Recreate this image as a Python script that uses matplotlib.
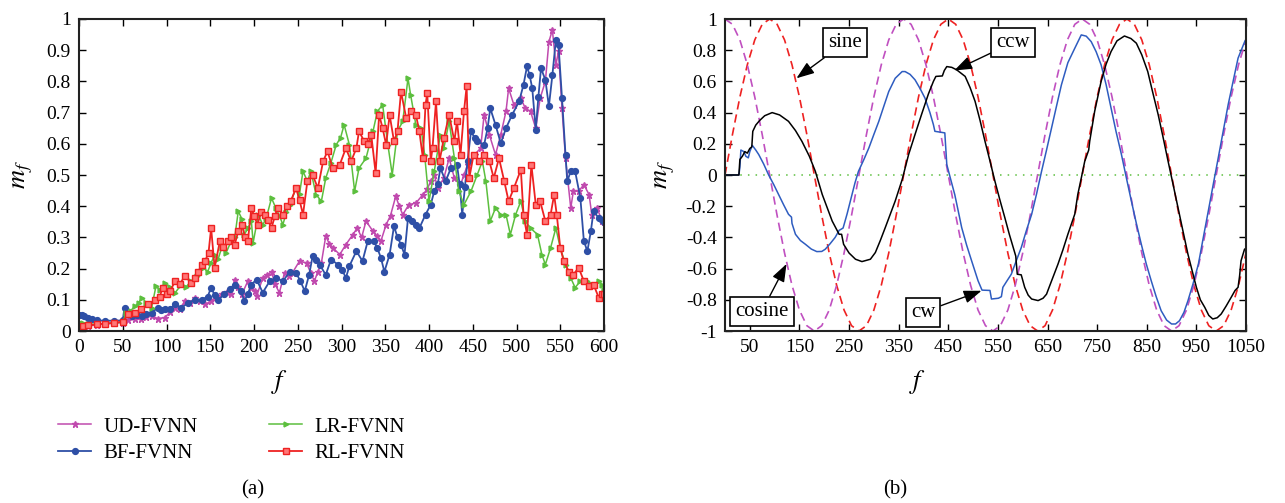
import numpy as np
import matplotlib
matplotlib.use("Agg")
import matplotlib.pyplot as plt
from matplotlib.ticker import FuncFormatter

plt.rcParams['font.family'] = ['Liberation Serif', 'DejaVu Serif']
plt.rcParams['mathtext.fontset'] = 'stix'

# ---- panel (a): m_f per frame for four networks ----
ud_f = [0, 5, 10, 20, 30, 40, 50, 56, 64, 71, 77, 83, 90, 98, 104, 110, 115, 121, 127, 132, 138, 144, 151, 157,
        163, 169, 174, 178, 182, 186, 193, 197, 201, 203, 210, 215, 220, 224, 229, 235, 240, 244, 252, 260, 265,
        269, 273, 277, 282, 286, 290, 298, 305, 313, 318, 323, 328, 336, 340, 345, 351, 356, 362, 366, 370, 377,
        385, 393, 398, 402, 406, 410, 417, 423, 429, 436, 440, 444, 452, 459, 463, 469, 476, 482, 488, 491, 497,
        505, 510, 516, 522, 527, 533, 537, 541, 545, 548, 552, 556, 562, 565, 571, 577, 583, 586, 592, 598, 600]
ud_m = [0.000, 0.010, 0.015, 0.020, 0.022, 0.025, 0.027, 0.035, 0.037, 0.038, 0.045, 0.048, 0.040, 0.043, 0.060,
        0.075, 0.070, 0.096, 0.090, 0.107, 0.095, 0.085, 0.096, 0.110, 0.117, 0.125, 0.117, 0.165, 0.140, 0.117,
        0.160, 0.139, 0.128, 0.112, 0.170, 0.180, 0.190, 0.150, 0.123, 0.187, 0.175, 0.187, 0.224, 0.218, 0.185,
        0.160, 0.190, 0.218, 0.304, 0.280, 0.267, 0.245, 0.277, 0.309, 0.330, 0.300, 0.352, 0.320, 0.305, 0.288,
        0.341, 0.370, 0.432, 0.400, 0.373, 0.405, 0.410, 0.437, 0.455, 0.480, 0.500, 0.458, 0.490, 0.554, 0.490,
        0.469, 0.500, 0.533, 0.565, 0.586, 0.693, 0.629, 0.565, 0.629, 0.704, 0.778, 0.725, 0.746, 0.714, 0.704,
        0.650, 0.746, 0.800, 0.927, 0.965, 0.853, 0.896, 0.714, 0.554, 0.394, 0.448, 0.448, 0.469, 0.437, 0.373,
        0.394, 0.352, 0.350]

bf_f = [0, 3, 6, 10, 15, 20, 30, 40, 50, 52, 56, 60, 66, 72, 77, 83, 90, 94, 98, 104, 110, 117, 125, 132, 140,
        147, 151, 155, 159, 166, 172, 178, 185, 189, 193, 197, 203, 210, 218, 225, 233, 241, 248, 253, 258, 263,
        267, 271, 275, 282, 288, 296, 301, 305, 309, 317, 324, 330, 337, 341, 345, 349, 355, 360, 364, 368, 372,
        376, 381, 385, 389, 396, 402, 406, 410, 413, 419, 425, 432, 435, 438, 441, 444, 448, 452, 455, 463, 467,
        470, 476, 482, 488, 495, 503, 508, 512, 515, 518, 522, 525, 528, 533, 537, 541, 545, 548, 552, 556, 558,
        562, 567, 573, 577, 581, 585, 588, 594, 598, 600]
bf_m = [0.050, 0.052, 0.048, 0.042, 0.037, 0.034, 0.033, 0.033, 0.034, 0.075, 0.055, 0.048, 0.052, 0.048, 0.055,
        0.059, 0.075, 0.066, 0.069, 0.072, 0.085, 0.075, 0.090, 0.100, 0.100, 0.110, 0.139, 0.115, 0.100, 0.117,
        0.135, 0.149, 0.128, 0.096, 0.120, 0.149, 0.165, 0.123, 0.160, 0.170, 0.160, 0.190, 0.187, 0.160, 0.128,
        0.180, 0.240, 0.228, 0.213, 0.180, 0.229, 0.213, 0.195, 0.170, 0.208, 0.256, 0.224, 0.288, 0.288, 0.265,
        0.235, 0.190, 0.245, 0.336, 0.300, 0.277, 0.245, 0.362, 0.352, 0.340, 0.330, 0.373, 0.405, 0.448, 0.470,
        0.522, 0.480, 0.522, 0.533, 0.470, 0.373, 0.460, 0.544, 0.640, 0.620, 0.608, 0.597, 0.650, 0.714, 0.661,
        0.602, 0.650, 0.693, 0.736, 0.789, 0.848, 0.820, 0.778, 0.645, 0.750, 0.842, 0.805, 0.720, 0.820, 0.933,
        0.917, 0.746, 0.565, 0.480, 0.512, 0.512, 0.426, 0.288, 0.256, 0.320, 0.384, 0.362, 0.357, 0.350]

lr_f = [0, 5, 10, 20, 30, 40, 50, 54, 59, 64, 68, 72, 77, 83, 88, 93, 98, 104, 110, 117, 122, 128, 135, 142, 147,
        151, 155, 159, 163, 168, 174, 178, 182, 186, 189, 193, 197, 199, 205, 210, 214, 220, 225, 229, 233, 237,
        241, 248, 252, 256, 261, 265, 271, 277, 282, 288, 294, 299, 303, 309, 315, 320, 328, 336, 341, 347, 353,
        358, 364, 370, 376, 379, 385, 391, 395, 400, 406, 413, 417, 423, 429, 434, 440, 448, 455, 461, 465, 470,
        476, 482, 488, 493, 499, 505, 510, 516, 524, 529, 533, 539, 545, 550, 556, 562, 567, 573, 581, 588, 594,
        598, 600]
lr_m = [0.030, 0.025, 0.022, 0.022, 0.024, 0.026, 0.028, 0.059, 0.065, 0.080, 0.090, 0.107, 0.090, 0.075, 0.144,
        0.130, 0.155, 0.140, 0.123, 0.149, 0.140, 0.160, 0.175, 0.203, 0.190, 0.218, 0.245, 0.230, 0.267, 0.250,
        0.288, 0.300, 0.384, 0.360, 0.309, 0.330, 0.352, 0.283, 0.373, 0.340, 0.362, 0.426, 0.394, 0.370, 0.341,
        0.380, 0.405, 0.458, 0.440, 0.512, 0.480, 0.512, 0.437, 0.416, 0.490, 0.540, 0.597, 0.620, 0.661, 0.597,
        0.448, 0.522, 0.554, 0.640, 0.704, 0.725, 0.597, 0.501, 0.640, 0.672, 0.810, 0.757, 0.661, 0.650, 0.565,
        0.416, 0.512, 0.629, 0.586, 0.672, 0.554, 0.448, 0.405, 0.448, 0.500, 0.544, 0.480, 0.352, 0.394, 0.373,
        0.373, 0.309, 0.373, 0.416, 0.352, 0.330, 0.309, 0.245, 0.213, 0.267, 0.330, 0.267, 0.213, 0.170, 0.139,
        0.160, 0.160, 0.149, 0.160, 0.149, 0.130]

rl_f = [0, 5, 10, 20, 30, 40, 50, 56, 64, 71, 79, 87, 92, 96, 100, 104, 110, 115, 121, 128, 132, 136, 140, 144,
        148, 151, 155, 161, 165, 170, 174, 178, 182, 186, 190, 193, 197, 200, 204, 208, 212, 216, 220, 224, 227,
        233, 238, 242, 248, 252, 256, 261, 267, 273, 279, 284, 290, 298, 305, 311, 317, 320, 326, 330, 334, 339,
        343, 347, 351, 355, 360, 364, 368, 374, 379, 385, 389, 393, 396, 398, 402, 404, 408, 412, 417, 423, 429,
        432, 436, 440, 443, 446, 451, 457, 463, 469, 474, 480, 486, 491, 497, 505, 508, 512, 517, 522, 527, 533,
        539, 543, 546, 550, 554, 560, 565, 571, 577, 583, 588, 594, 598, 600]
rl_m = [0.012, 0.016, 0.018, 0.021, 0.024, 0.026, 0.030, 0.053, 0.059, 0.069, 0.085, 0.100, 0.110, 0.139, 0.120,
        0.128, 0.160, 0.150, 0.176, 0.155, 0.170, 0.190, 0.210, 0.224, 0.250, 0.330, 0.203, 0.288, 0.270, 0.288,
        0.300, 0.277, 0.320, 0.341, 0.300, 0.288, 0.394, 0.370, 0.341, 0.380, 0.373, 0.355, 0.330, 0.370, 0.394,
        0.373, 0.400, 0.416, 0.458, 0.420, 0.373, 0.480, 0.500, 0.458, 0.544, 0.576, 0.522, 0.533, 0.586, 0.544,
        0.586, 0.640, 0.608, 0.600, 0.629, 0.506, 0.693, 0.650, 0.597, 0.693, 0.608, 0.640, 0.767, 0.682, 0.704,
        0.693, 0.640, 0.554, 0.725, 0.762, 0.544, 0.586, 0.736, 0.544, 0.618, 0.693, 0.608, 0.672, 0.565, 0.704,
        0.784, 0.490, 0.565, 0.544, 0.565, 0.544, 0.490, 0.554, 0.480, 0.416, 0.458, 0.517, 0.373, 0.309, 0.533,
        0.405, 0.416, 0.352, 0.373, 0.437, 0.373, 0.267, 0.224, 0.190, 0.181, 0.203, 0.160, 0.144, 0.149, 0.107,
        0.117, 0.120]

# ---- panel (b): reference sine / cosine and the two rotations ----
ref_f = list(range(0, 1051, 15))
sine = [0, .259, .5, .707, .866, .966, 1, .966, .866, .707, .5, .259, 0, -.259, -.5, -.707, -.866, -.966, -1,
        -.966, -.866, -.707, -.5, -.259,
        0, .259, .5, .707, .866, .966, 1, .966, .866, .707, .5, .259, 0, -.259, -.5, -.707, -.866, -.966, -1,
        -.966, -.866, -.707, -.5, -.259,
        0, .259, .5, .707, .866, .966, 1, .966, .866, .707, .5, .259, 0, -.259, -.5, -.707, -.866, -.966, -1,
        -.966, -.866, -.707, -.5]
cosine = [1, .966, .866, .707, .5, .259, 0, -.259, -.5, -.707, -.866, -.966, -1, -.966, -.866, -.707, -.5, -.259,
          0, .259, .5, .707, .866, .966,
          1, .966, .866, .707, .5, .259, 0, -.259, -.5, -.707, -.866, -.966, -1, -.966, -.866, -.707, -.5, -.259,
          0, .259, .5, .707, .866, .966,
          1, .966, .866, .707, .5, .259, 0, -.259, -.5, -.707, -.866, -.966, -1, -.966, -.866, -.707, -.5, -.259,
          0, .259, .5, .707, .866]

ccw_f = [0, 28, 30, 35, 40, 45, 50, 54, 56, 62, 70, 80, 95, 110, 128, 142, 155, 170, 182, 196, 216, 230, 235, 239,
         250, 263, 276, 293, 303, 313, 323, 343, 357, 370, 383, 396, 410, 420, 425, 438, 442, 447, 457, 467, 484,
         494, 504, 514, 524, 534, 544, 554, 564, 573, 581, 586, 589, 597, 604, 611, 618, 631, 641, 648, 652, 658,
         671, 681, 691, 705, 711, 718, 725, 733, 735, 745, 758, 768, 778, 790, 805, 818, 829, 840, 852, 862, 873,
         883, 893, 903, 913, 923, 933, 950, 958, 967, 975, 983, 992, 1000, 1010, 1020, 1028, 1034, 1037, 1040,
         1047, 1050]
ccw_m = [0, 0, 0.10, 0.12, 0.15, 0.14, 0.17, 0.18, 0.28, 0.32, 0.35, 0.38, 0.40, 0.385, 0.344, 0.285, 0.216, 0.12,
         0.024, -0.125, -0.295, -0.38, -0.38, -0.444, -0.50, -0.54, -0.555, -0.54, -0.497, -0.42, -0.337, -0.167,
         -0.03, 0.131, 0.26, 0.387, 0.52, 0.60, 0.632, 0.635, 0.67, 0.695, 0.69, 0.674, 0.632, 0.56, 0.472, 0.35,
         0.216, 0.09, -0.04, -0.16, -0.274, -0.38, -0.466, -0.52, -0.636, -0.64, -0.72, -0.77, -0.795, -0.805,
         -0.79, -0.764, -0.73, -0.68, -0.572, -0.48, -0.38, -0.25, -0.125, -0.02, 0.088, 0.16, 0.216, 0.408, 0.60,
         0.71, 0.791, 0.86, 0.891, 0.875, 0.845, 0.77, 0.663, 0.53, 0.387, 0.24, 0.088, -0.06, -0.21, -0.36,
         -0.508, -0.72, -0.80, -0.849, -0.90, -0.923, -0.915, -0.891, -0.84, -0.785, -0.74, -0.72, -0.65, -0.55,
         -0.476, -0.47]

cw_f = [0, 28, 30, 32, 38, 42, 47, 50, 55, 62, 68, 78, 88, 98, 108, 118, 128, 134, 135, 142, 152, 162, 174, 185,
        195, 202, 212, 222, 230, 238, 246, 256, 262, 269, 280, 290, 300, 310, 320, 330, 343, 357, 363, 373, 383,
        393, 403, 413, 420, 423, 443, 447, 455, 463, 470, 477, 487, 497, 510, 518, 534, 537, 551, 557, 560, 568,
        577, 587, 597, 607, 618, 628, 638, 648, 658, 668, 678, 691, 705, 718, 728, 738, 748, 758, 768, 778, 788,
        799, 809, 819, 829, 839, 849, 859, 869, 879, 890, 900, 908, 916, 925, 933, 943, 954, 964, 974, 984, 994,
        1004, 1014, 1024, 1034, 1048, 1050]
cw_m = [0, 0, 0.05, 0.16, 0.15, 0.12, 0.11, 0.15, 0.19, 0.16, 0.131, 0.07, 0.0, -0.06, -0.125, -0.19, -0.252,
        -0.27, -0.31, -0.38, -0.42, -0.444, -0.475, -0.491, -0.49, -0.476, -0.44, -0.40, -0.355, -0.34, -0.25,
        -0.125, -0.05, 0.024, 0.10, 0.174, 0.26, 0.344, 0.44, 0.535, 0.62, 0.663, 0.663, 0.645, 0.61, 0.555, 0.493,
        0.40, 0.323, 0.28, 0.27, 0.067, -0.03, -0.125, -0.23, -0.337, -0.45, -0.55, -0.678, -0.738, -0.74, -0.795,
        -0.79, -0.78, -0.72, -0.68, -0.636, -0.55, -0.466, -0.36, -0.252, -0.12, 0.024, 0.16, 0.30, 0.44, 0.578,
        0.72, 0.813, 0.898, 0.89, 0.855, 0.79, 0.706, 0.58, 0.43, 0.28, 0.131, -0.02, -0.167, -0.31, -0.444, -0.57,
        -0.678, -0.78, -0.87, -0.93, -0.955, -0.955, -0.934, -0.88, -0.806, -0.70, -0.572, -0.40, -0.231, -0.06,
        0.109, 0.28, 0.45, 0.60, 0.749, 0.86, 0.87]

fig = plt.figure(figsize=(12.85, 5.03), dpi=100)
ax1 = fig.add_axes([79 / 1285, 172 / 503, 525 / 1285, 312 / 503])
ax2 = fig.add_axes([725 / 1285, 172 / 503, 521 / 1285, 312 / 503])

c_ud, c_bf, c_lr, c_rl = '#c04aae', '#2e4fa6', '#5cbf3e', '#ee2222'
h_ud, = ax1.plot(ud_f, ud_m, color=c_ud, lw=1.1, marker='*', ms=4.5, label='UD-FVNN')
h_bf, = ax1.plot(bf_f, bf_m, color=c_bf, lw=1.3, marker='o', ms=4.2, label='BF-FVNN')
h_lr, = ax1.plot(lr_f, lr_m, color=c_lr, lw=1.1, marker='>', ms=3.5, label='LR-FVNN')
h_rl, = ax1.plot(rl_f, rl_m, color=c_rl, lw=1.3, marker='s', ms=4.2, mfc='#f77', mec=c_rl, label='RL-FVNN')

ax1.set_xlim(0, 600)
ax1.set_ylim(0, 1)
ax1.set_xticks(range(0, 601, 50))
ax1.set_yticks(np.arange(0, 1.01, 0.1))
ax1.yaxis.set_major_formatter(FuncFormatter(lambda v, p: f'{v:.1f}'.rstrip('0').rstrip('.') if v else '0'))

ax2.plot(ref_f, sine, color='#ee2222', lw=1.2, ls=(0, (5, 3)))
ax2.plot(ref_f, cosine, color='#c050c0', lw=1.2, ls=(0, (5, 3)))
ax2.axhline(0, color='#5cbf3e', lw=1.1, ls=(0, (1, 4)))
ax2.plot(cw_f, cw_m, color='#2e5cc0', lw=1.1)
ax2.plot(ccw_f, ccw_m, color='black', lw=1.1)
ax2.set_xlim(0, 1050)
ax2.set_ylim(-1, 1)
ax2.set_xticks(range(50, 1051, 100))
ax2.set_yticks(np.round(np.arange(-1, 1.01, 0.2), 1))
ax2.yaxis.set_major_formatter(FuncFormatter(
    lambda v, p: ('-' if v < -1e-9 else '') + (f'{abs(v):.1f}'.rstrip('0').rstrip('.') if abs(v) > 1e-9 else '0')))

for ax in (ax1, ax2):
    ax.tick_params(direction='in', top=True, right=True, labelsize=14, length=5, width=1, pad=6)
    for s in ax.spines.values():
        s.set_linewidth(1.5)
        s.set_color('#222222')

box = dict(boxstyle='square,pad=0.25', fc='white', ec='black', lw=1.2)
arr = dict(arrowstyle='-|>,head_length=0.6,head_width=0.22', color='black', lw=1, mutation_scale=18,
           shrinkA=0, shrinkB=0)
ax2.annotate('sine', xy=(144, 0.62), xytext=(242, 0.85), fontsize=15, ha='center', va='center', bbox=box, arrowprops=arr)
ax2.annotate('ccw', xy=(462, 0.67), xytext=(581, 0.85), fontsize=15, ha='center', va='center', bbox=box, arrowprops=arr)
ax2.annotate('cosine', xy=(124, -0.57), xytext=(74, -0.875), fontsize=15, ha='center', va='center', bbox=box, arrowprops=arr)
ax2.annotate('cw', xy=(517, -0.742), xytext=(399, -0.88), fontsize=15, ha='center', va='center', bbox=box, arrowprops=arr)

# axis labels and captions
fig.text(23 / 1285, 1 - 175 / 503, '$m_f$', fontsize=19, rotation=90, ha='center', va='center')
fig.text(665 / 1285, 1 - 175 / 503, '$m_f$', fontsize=19, rotation=90, ha='center', va='center')
fig.text(280 / 1285, 1 - 382 / 503, '$f$', fontsize=19, ha='center', va='center')
fig.text(918 / 1285, 1 - 382 / 503, '$f$', fontsize=19, ha='center', va='center')
fig.text(253 / 1285, 1 - 490 / 503, '(a)', fontsize=15, ha='center', va='center')
fig.text(895 / 1285, 1 - 490 / 503, '(b)', fontsize=15, ha='center', va='center')

fig.legend(handles=[h_ud, h_bf, h_lr, h_rl], ncol=2, loc='upper left', bbox_to_anchor=(58 / 1285, 1 - 417 / 503),
           frameon=False, fontsize=15, handlelength=1.6, handletextpad=0.6, columnspacing=3.4, labelspacing=0.35,
           borderaxespad=0, borderpad=0)

fig.savefig('out.png', dpi=100)
